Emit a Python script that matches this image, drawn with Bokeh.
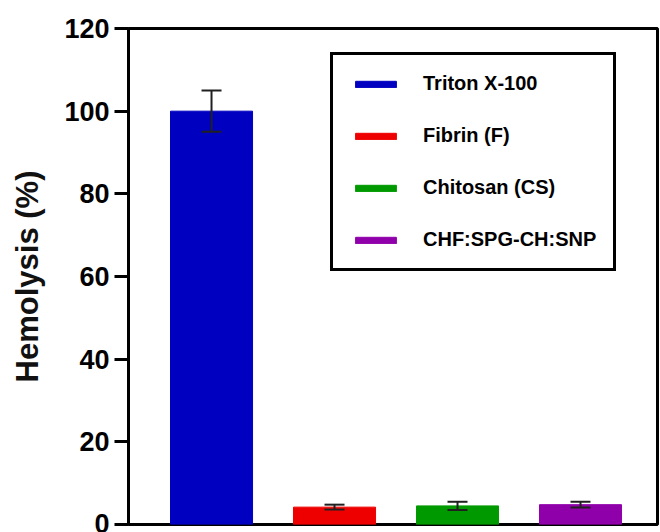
from bokeh.plotting import figure
from bokeh.models import ColumnDataSource, Range1d, Whisker, TeeHead, Legend, LegendItem
from bokeh.embed import file_html
from bokeh.resources import INLINE

categories = ["Triton X-100", "Fibrin (F)", "Chitosan (CS)", "CHF:SPG-CH:SNP"]
hemolysis = [100.0, 4.2, 4.5, 4.8]
errors = [5.0, 0.6, 1.0, 0.7]
colors = ["#0000C0", "#EE0000", "#009A00", "#9000AA"]
y_ticks = [0, 20, 40, 60, 80, 100, 120]

xs = [i + 1 for i in range(len(categories))]
src = ColumnDataSource(dict(
    x=xs, top=hemolysis, color=colors, label=categories,
    upper=[v + e for v, e in zip(hemolysis, errors)],
    lower=[v - e for v, e in zip(hemolysis, errors)],
))

p = figure(width=660, height=532, output_backend="svg", toolbar_location=None,
           x_range=Range1d(0.325, 4.626), y_range=Range1d(0, 120),
           min_border_left=128, min_border_top=28, min_border_right=3, min_border_bottom=8)

renderers = []
for i, c in enumerate(categories):
    s = ColumnDataSource(dict(x=[xs[i]], top=[hemolysis[i]]))
    r = p.vbar(x="x", top="top", width=0.667, bottom=0, source=s,
               fill_color=colors[i], line_color=colors[i], line_width=1)
    renderers.append(r)

w = Whisker(base="x", upper="upper", lower="lower", source=src, level="annotation",
            line_color="#202020", line_width=2,
            upper_head=TeeHead(size=20, line_color="#202020", line_width=2),
            lower_head=TeeHead(size=20, line_color="#202020", line_width=2))
p.add_layout(w)

p.xaxis.visible = False
p.xgrid.visible = False
p.ygrid.visible = False
p.outline_line_color = "black"
p.outline_line_width = 3
p.outline_line_alpha = 1

ya = p.yaxis[0]
ya.ticker = y_ticks
ya.axis_line_width = 3
ya.axis_line_color = "black"
ya.major_tick_line_width = 3
ya.major_tick_out = 14
ya.major_tick_in = 0
ya.minor_tick_line_color = None
ya.major_label_text_font = "Liberation Sans"
ya.major_label_text_font_style = "bold"
ya.major_label_text_font_size = "27px"
ya.major_label_text_color = "black"
ya.major_label_standoff = 5
ya.axis_label = "Hemolysis (%)"
ya.axis_label_text_font = "Liberation Sans"
ya.axis_label_text_font_style = "bold"
ya.axis_label_text_font_size = "31px"
ya.axis_label_text_color = "#111111"
ya.axis_label_standoff = 16

legend = Legend(items=[LegendItem(label=categories[i], renderers=[renderers[i]]) for i in range(4)],
                location=(202, 253))
legend.border_line_color = "black"
legend.border_line_width = 3
legend.border_line_alpha = 1
legend.padding = 17
legend.spacing = 29
legend.glyph_width = 51
legend.glyph_height = 8
legend.label_standoff = 22
legend.label_text_font = "Liberation Sans"
legend.label_text_font_style = "bold"
legend.label_text_font_size = "20px"
legend.label_text_color = "black"
legend.background_fill_alpha = 1
p.add_layout(legend, "center")

open("out.html", "w").write(file_html(p, INLINE))
